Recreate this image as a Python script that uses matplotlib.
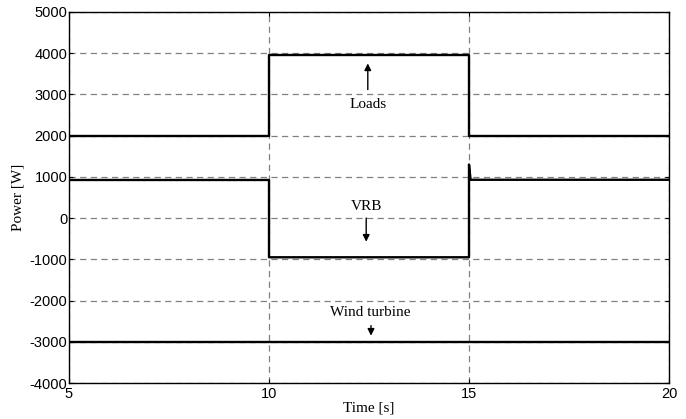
import numpy as np
import matplotlib.pyplot as plt

plt.rcParams['axes.unicode_minus'] = False

# step profiles
t_loads = [5, 10, 10, 15, 15, 20]
p_loads = [2000, 2000, 3950, 3950, 2000, 2000]

t_vrb = [5, 10, 10, 15, 15, 15.04, 20]
p_vrb = [925, 925, -950, -950, 1300, 930, 930]

t_wind = [5, 20]
p_wind = [-2995, -2995]

x_ticks = [5, 10, 15, 20]
y_ticks = [-4000, -3000, -2000, -1000, 0, 1000, 2000, 3000, 4000, 5000]

fig = plt.figure(figsize=(6.86, 4.19), dpi=100)
ax = fig.add_axes([0.1006, 0.0859, 0.8746, 0.8855])

for t, p in [(t_loads, p_loads), (t_vrb, p_vrb), (t_wind, p_wind)]:
    ax.plot(t, p, color='black', linewidth=1.7)

ax.set_xlim(5, 20)
ax.set_ylim(-4000, 5000)
ax.set_xticks(x_ticks)
ax.set_yticks(y_ticks)
ax.grid(True, color='gray', linestyle=(0, (5, 3.5)), linewidth=0.9)
ax.tick_params(direction='in', top=True, right=True, length=3,
               labelsize=10.5, pad=1)
ax.tick_params(axis='x', pad=3)
for lbl in ax.get_xticklabels() + ax.get_yticklabels():
    lbl.set_fontfamily('Liberation Sans')
for s in ax.spines.values():
    s.set_linewidth(1.0)

serif = {'family': 'Liberation Serif', 'size': 11}
ax.set_xlabel('Time [s]', fontdict=serif, labelpad=0)
ax.set_ylabel('Power [W]', fontdict=serif, labelpad=4)

arrow = dict(arrowstyle='-|>', color='black', lw=1.0, mutation_scale=10)
ax.annotate('', xy=(12.47, 3820), xytext=(12.47, 3050), arrowprops=arrow)
ax.text(12.47, 2750, 'Loads', ha='center', va='center', fontdict=serif)

ax.annotate('', xy=(12.43, -640), xytext=(12.43, 70), arrowprops=arrow)
ax.text(12.43, 290, 'VRB', ha='center', va='center', fontdict=serif)

ax.annotate('', xy=(12.55, -2920), xytext=(12.55, -2540), arrowprops=arrow)
ax.text(12.52, -2300, 'Wind turbine', ha='center', va='center', fontdict=serif)

fig.savefig('out.png', dpi=100)
